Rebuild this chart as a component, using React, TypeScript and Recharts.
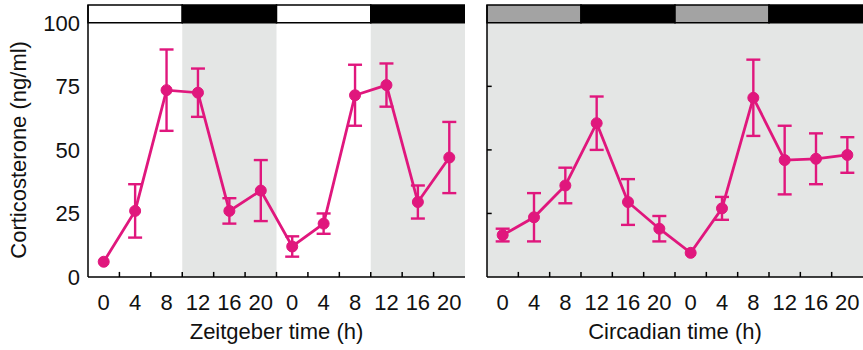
import { LineChart, Line, XAxis, YAxis, ErrorBar, ReferenceArea, ReferenceLine, Label } from 'recharts';

// sampling points, two days of 4 h steps
const xLabels = ['0', '4', '8', '12', '16', '20', '0', '4', '8', '12', '16', '20'];
const yTicks = [0, 25, 50, 75, 100];

// Zeitgeber (light/dark) panel, mean and SEM
const zeitgeberMean = [6, 26, 73.5, 72.5, 26, 34, 12, 21, 71.5, 75.5, 29.5, 47];
const zeitgeberSem = [0, 10.5, 16, 9.5, 5, 12, 4, 4, 12, 8.5, 6.5, 14];

// Circadian (constant dark) panel, mean and SEM
const circadianMean = [16.5, 23.5, 36, 60.5, 29.5, 19, 9.5, 27, 70.5, 46, 46.5, 48];
const circadianSem = [2.5, 9.5, 7, 10.5, 9, 5, 0, 4.5, 15, 13.5, 10, 7];

// phase bar on top: boundaries in x units and phase of each block
const phaseEdges = [-0.5, 2.5, 5.5, 8.5, 11.5];
const zeitgeberPhases = ['light', 'dark', 'light', 'dark'];
const circadianPhases = ['subjective', 'dark', 'subjective', 'dark'];

const MAGENTA = '#e0177d';
const SHADE = '#e4e6e5';
const FONT = '"Liberation Sans", Arial, sans-serif';
const Y_MAX = 107;
const BAR_BOTTOM = 100;

const phaseFill: Record<string, string> = { light: '#ffffff', dark: '#000000', subjective: '#a3a3a3' };

const xMarks = xLabels.slice(1).map((_, i) => i + 0.5);

interface PanelProps {
  mean: number[];
  sem: number[];
  phases: string[];
  title: string;
  left: number;
  width: number;
  yAxisWidth: number;
  showYLabels: boolean;
  fullShade: boolean;
}

function Panel({ mean, sem, phases, title, left, width, yAxisWidth, showYLabels, fullShade }: PanelProps) {
  const data = mean.map((v, i) => ({ i, v, err: sem[i] }));
  const tickStyle = { fontSize: 22, fill: '#111', fontFamily: FONT };

  return (
    <div style={{ position: 'absolute', left, top: 0 }}>
      <LineChart width={width} height={350} data={data} margin={{ top: 5, right: 0, bottom: 0, left: 0 }}>
        {/* shaded (dark) background */}
        {fullShade ? (
          <ReferenceArea x1={-0.5} x2={11.5} y1={0} y2={BAR_BOTTOM} fill={SHADE} fillOpacity={1} stroke="none" />
        ) : (
          phases.map((p, k) =>
            p === 'dark' ? (
              <ReferenceArea key={'s' + k} x1={phaseEdges[k]} x2={phaseEdges[k + 1]} y1={0} y2={BAR_BOTTOM} fill={SHADE} fillOpacity={1} stroke="none" />
            ) : null
          )
        )}

        {/* phase bar */}
        {phases.map((p, k) => (
          <ReferenceArea
            key={'b' + k}
            x1={phaseEdges[k]}
            x2={phaseEdges[k + 1]}
            y1={BAR_BOTTOM}
            y2={Y_MAX}
            fill={phaseFill[p]}
            fillOpacity={1}
            stroke="#000"
            strokeWidth={1.5}
            ifOverflow="visible"
          />
        ))}

        {/* inward tick marks */}
        {xMarks.map((m) => (
          <ReferenceLine key={'x' + m} segment={[{ x: m, y: 0 }, { x: m, y: 2 }]} stroke="#000" strokeWidth={1.5} />
        ))}
        {!showYLabels &&
          yTicks.slice(1, 4).map((t) => (
            <ReferenceLine key={'y' + t} segment={[{ x: -0.5, y: t }, { x: -0.35, y: t }]} stroke="#000" strokeWidth={1.5} />
          ))}

        <XAxis
          dataKey="i"
          type="number"
          domain={[-0.5, 11.5]}
          ticks={xLabels.map((_, i) => i)}
          interval={0}
          tickFormatter={(v: number) => xLabels[v] ?? ''}
          tickLine={false}
          tickSize={0}
          tickMargin={17}
          axisLine={{ stroke: '#000', strokeWidth: 1.5 }}
          tick={tickStyle}
          height={73}
        >
          <Label value={title} position="insideBottom" offset={11} style={{ fontSize: 22, fill: '#111', fontFamily: FONT }} />
        </XAxis>
        <YAxis
          type="number"
          domain={[0, Y_MAX]}
          ticks={yTicks}
          interval={0}
          width={yAxisWidth}
          tickLine={false}
          tickSize={0}
          tickMargin={8}
          tick={showYLabels ? tickStyle : false}
          axisLine={{ stroke: '#000', strokeWidth: 1.5 }}
        >
          {showYLabels && (
            <Label
              content={({ viewBox }: any) => {
                const cy = viewBox.y + viewBox.height * (1 - 50 / Y_MAX);
                return (
                  <text
                    x={26}
                    y={cy}
                    transform={`rotate(-90 26 ${cy})`}
                    textAnchor="middle"
                    style={{ fontSize: 22, fill: '#111', fontFamily: FONT }}
                  >
                    Corticosterone (ng/ml)
                  </text>
                );
              }}
            />
          )}
        </YAxis>

        <Line
          type="linear"
          dataKey="v"
          stroke={MAGENTA}
          strokeWidth={2.8}
          dot={{ r: 5.5, fill: MAGENTA, stroke: MAGENTA, strokeWidth: 1 }}
          activeDot={false}
          isAnimationActive={false}
        >
          <ErrorBar dataKey="err" width={7} stroke={MAGENTA} strokeWidth={2.4} direction="y" />
        </Line>
      </LineChart>
    </div>
  );
}

export default function App() {
  return (
    <div style={{ position: 'absolute', left: 0, top: 0, width: 863, height: 350, background: '#fff', fontFamily: FONT }}>
      <Panel
        mean={zeitgeberMean}
        sem={zeitgeberSem}
        phases={zeitgeberPhases}
        title="Zeitgeber time (h)"
        left={0}
        width={465}
        yAxisWidth={88}
        showYLabels
        fullShade={false}
      />
      <Panel
        mean={circadianMean}
        sem={circadianSem}
        phases={circadianPhases}
        title="Circadian time (h)"
        left={480}
        width={383}
        yAxisWidth={7}
        showYLabels={false}
        fullShade
      />
    </div>
  );
}
